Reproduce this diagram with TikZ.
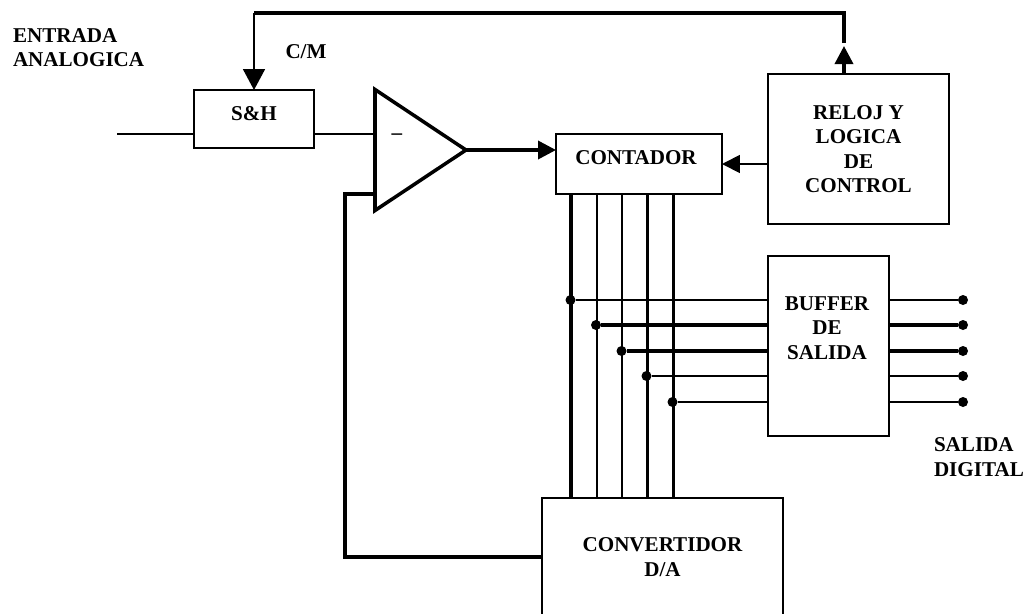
\documentclass[tikz,border=0pt]{standalone}
\usepackage{fontspec}
\setmainfont{Liberation Serif}
\usetikzlibrary{arrows.meta,shapes.geometric}

\begin{document}
\begin{tikzpicture}[
    x=0.02cm, y=-0.02cm,
    every node/.style={font=\fontsize{12}{13.9}\selectfont\bfseries, align=center, inner sep=0pt, outer sep=0pt},
    box/.style={draw, line width=1pt},
    thn/.style={line width=1pt},
    thk/.style={line width=2pt},
    dot/.style={circle, fill=black, minimum size=0.2cm},
    bighead/.style={-{Triangle[length=0.42cm, width=0.44cm]}},
    smallhead/.style={-{Triangle[length=0.36cm, width=0.36cm]}}
]
    \useasboundingbox (0,0) rectangle (1032,613);
    \clip (0,0) rectangle (1032,613);

    % blocks
    \node[box, minimum width=2.4cm, minimum height=1.16cm] (sh) at (254,119) {};
    \node[box, minimum width=3.32cm, minimum height=1.2cm] (cnt) at (639,164) {};
    \node[box, minimum width=3.62cm, minimum height=3cm] (clk) at (858.5,149) {RELOJ Y\\LOGICA\\DE\\CONTROL};
    \node[box, minimum width=2.42cm, minimum height=3.6cm] (buf) at (828.5,346) {};
    \node[box, minimum width=4.82cm, minimum height=2.36cm] (dac) at (662.5,557) {CONVERTIDOR\\D/A};
    \node[draw, thk, isosceles triangle, isosceles triangle apex angle=67.2, isosceles triangle stretches,
        minimum width=2.42cm, minimum height=1.82cm, anchor=lower side] (amp) at (375,150) {};

    % labels
    \node (shtext) at (254,114) {S\&H};
    \node (cnttext) at (636,158) {CONTADOR};
    \node (buftext) at (827,328) {BUFFER\\DE\\SALIDA};
    \node (minus) at (397,137) {--};
    \node[align=left, anchor=west] (intext) at (13,47.5) {ENTRADA\\ANALOGICA};
    \node (cmtext) at (306,52) {C/M};
    \node[align=left, anchor=west] (outtext) at (934,457) {SALIDA\\DIGITAL};

    % clock loop
    \coordinate (corner) at (844,13);
    \coordinate (gap) at (844,43);
    \coordinate (tipup) at (844,46);
    \draw[thk, smallhead] (clk.north -| tipup) -- (tipup);
    \draw[thk] (gap) -- (corner) -- (corner -| sh.north);
    \draw[thn, bighead] (corner -| sh.north) -- (sh.north);

    % analog path
    \coordinate (inp) at (117,134);
    \coordinate (fb) at (345,194);
    \draw[thn] (inp) -- (inp -| sh.west);
    \draw[thn] (inp -| sh.east) -- (inp -| amp.lower side);
    \draw[thk, smallhead] (amp.apex) -- (amp.apex -| cnt.west);
    \draw[thn, smallhead] (clk.west |- cnt.east) -- (cnt.east);
    \draw[thk] (dac.west) -- (dac.west -| fb) -- (fb) -- (fb -| amp.lower side);

    % bus and buffer lines
    \foreach \x/\lw in {571/thk,597/thn,622/thn,647.5/thk,673.5/thk}{
        \draw[\lw] (\x,0 |- cnt.south) -- (\x,0 |- dac.north);
    }
    \foreach \i/\x/\y/\lw in {1/570.5/300/thn,2/596/325/thk,3/621.5/351/thk,4/646.5/376/thn,5/672.5/402/thn}{
        \node[dot] (ldot\i) at (\x,\y) {};
        \node[dot] (rdot\i) at (963,\y) {};
        \draw[\lw] (ldot\i) -- (ldot\i -| buf.west);
        \draw[\lw] (ldot\i -| buf.east) -- (rdot\i);
    }
\end{tikzpicture}
\end{document}
